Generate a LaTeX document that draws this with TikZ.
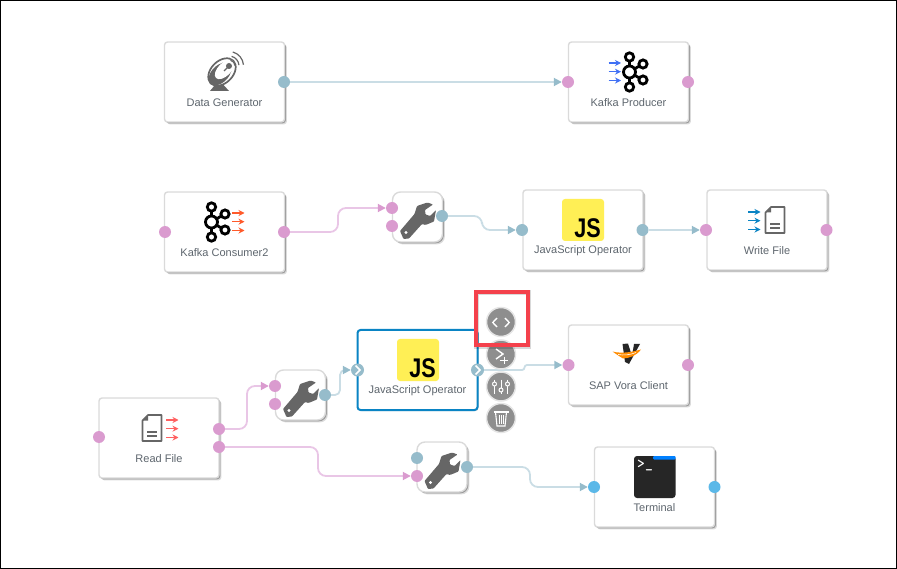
\documentclass[tikz,border=0pt]{standalone}
\usepackage{fontspec}
\setmainfont{Liberation Sans}
\usetikzlibrary{arrows.meta,shadows}

\definecolor{portpink}{HTML}{DA9BCF}
\definecolor{wirepink}{HTML}{E9C6E6}
\definecolor{portblue}{HTML}{96BCCB}
\definecolor{wireblue}{HTML}{CADDE5}
\definecolor{portsky}{HTML}{5BB8E8}
\definecolor{labelgray}{HTML}{5E666E}
\definecolor{icongray}{HTML}{666666}
\definecolor{btngray}{HTML}{8E8E8E}
\definecolor{jsyellow}{HTML}{FFEF55}
\definecolor{boxline}{HTML}{DADADA}
\definecolor{selblue}{HTML}{0A84C4}
\definecolor{redframe}{HTML}{F4414C}
\definecolor{arrowblue}{HTML}{4070F4}
\definecolor{arroworange}{HTML}{FF5A2A}
\definecolor{arrowred}{HTML}{FF6060}

% three small arrows: x, y of the first tail, colour
\newcommand{\tripleicon}[3]{
    \foreach \dy in {0,8.7,17.5}
        \draw[#3, line width=1.5pt, -{Stealth[length=6pt,width=6pt]}] (#1,#2+\dy) -- ++(12.5,0);
}
% kafka logo round its middle ring
\newcommand{\kafkaicon}[2]{
    \begin{scope}[shift={(#1,#2)}, line width=2.8pt]
        \draw (0,-15) -- (0,15) (0,0) -- (13,-8) (0,0) -- (13,8);
        \filldraw[fill=white] (0,-15) circle (4.2);
        \filldraw[fill=white] (0,15) circle (4.2);
        \filldraw[fill=white] (0,0) circle (6);
        \filldraw[fill=white] (13.5,-8) circle (4.1);
        \filldraw[fill=white] (13.5,8) circle (4.1);
    \end{scope}
}
% sheet of paper
\newcommand{\fileicon}[2]{
    \begin{scope}[shift={(#1,#2)}]
        \draw[icongray, line width=1.7pt, line join=round, fill=white] (-4,-13) -- (9.5,-13) -- (9.5,13) -- (-9.5,13) -- (-9.5,-7.5) -- cycle;
        \fill[icongray] (-4,-13) -- (-4,-7.5) -- (-9.5,-7.5) -- cycle;
        \draw[icongray, line width=1.3pt] (-5,4) -- (5,4) (-5,8) -- (5,8);
    \end{scope}
}
% wrench inside a small box
\newcommand{\wrenchicon}[2]{
    \begin{scope}[shift={(#1,#2)}]
        \fill[icongray, rounded corners=.8pt] (-17.5,14) -- (-3,-3) -- (-.5,-11) -- (10,-14.5) -- (15.5,-12.5) -- (7.5,-7) -- (8,-2.5) -- (12.5,-1) -- (18.5,-7) -- (16.5,4.5) -- (8,8) -- (4.5,7) -- (-8.5,21.5) -- (-14,22) -- cycle;
        \fill[white] (-11.5,15.5) circle (1.7);
    \end{scope}
}
% yellow square with its letters
\newcommand{\jsicon}[3]{
    \fill[jsyellow, rounded corners=3pt] (#1,#2) rectangle ++(42,42);
    \node[anchor=south east, inner sep=0pt, font=\bfseries\fontsize{27}{27}\selectfont] (#3) at (#1+39,#2+39) {\scalebox{.8}[1]{JS}};
}

\begin{document}
\begin{tikzpicture}[x=1pt, y=-1pt, >=stealth,
    opbox/.style={draw=boxline, line width=1.4pt, fill=white, rounded corners=3pt, minimum width=120pt, minimum height=80pt, inner sep=0pt,
        drop shadow={shadow xshift=2.4pt, shadow yshift=-2.4pt, fill=black, opacity=.14},
        drop shadow={shadow xshift=1.3pt, shadow yshift=-1.3pt, fill=black, opacity=.3}},
    smallbox/.style={opbox, minimum width=50pt, minimum height=50pt, rounded corners=8pt},
    oplabel/.style={text=labelgray, inner sep=0pt, font=\fontsize{11}{12}\selectfont},
    port/.style={circle, inner sep=0pt, minimum size=12pt},
    pinkport/.style={port, fill=portpink},
    blueport/.style={port, fill=portblue},
    skyport/.style={port, fill=portsky},
    pinkwire/.style={draw=wirepink, line width=1.8pt, rounded corners=8pt, -{Triangle[length=8pt,width=8pt,color=portpink]}},
    bluewire/.style={draw=wireblue, line width=1.8pt, rounded corners=8pt, -{Triangle[length=8pt,width=8pt,color=portblue]}},
    action/.style={circle, fill=btngray, draw=black!10, line width=1.5pt, minimum size=29pt, inner sep=0pt},
    actionmark/.style={white, line width=1.4pt}]

    \useasboundingbox (0,0) rectangle (897,569);
    \draw[black, line width=1pt] (0.5,0.5) rectangle (896.5,568.5);

    % Boxes
    \node[opbox] (datagen) at (224.5,82) {};
    \node[opbox] (producer) at (628.5,82) {};
    \node[opbox] (consumer) at (224.5,232) {};
    \node[opbox] (jsfirst) at (583,230) {};
    \node[opbox] (writefile) at (767,230) {};
    \node[draw=selblue, line width=2pt, fill=white, rounded corners=3pt, minimum width=120pt, minimum height=80pt, inner sep=0pt,
        drop shadow={shadow xshift=1pt, shadow yshift=-1pt, fill=black, opacity=.2}] (jssecond) at (417.5,370) {};
    \node[opbox] (vora) at (628.5,365) {};
    \node[opbox] (readfile) at (159,438) {};
    \node[opbox] (terminal) at (654.5,487) {};
    \node[smallbox] (toolone) at (417.5,217) {};
    \node[smallbox] (tooltwo) at (300.5,395) {};
    \node[smallbox] (toolthree) at (442,467) {};

    % Ports
    \node[blueport] (datagenout) at (284,82) {};
    \node[pinkport] (producerin) at (568,82) {};
    \node[pinkport] (producerout) at (688,82) {};
    \node[pinkport] (consumerin) at (165,232) {};
    \node[pinkport] (consumerout) at (284,232) {};
    \node[pinkport] (toolonea) at (392,208) {};
    \node[pinkport] (tooloneb) at (392,226) {};
    \node[blueport] (tooloneout) at (442,216) {};
    \node[blueport] (jsfirstin) at (522,230) {};
    \node[blueport] (jsfirstout) at (642.5,230) {};
    \node[pinkport] (writein) at (706,230) {};
    \node[pinkport] (writeout) at (826.5,230) {};
    \node[pinkport] (readin) at (99,437) {};
    \node[pinkport] (readouta) at (219,429) {};
    \node[pinkport] (readoutb) at (219,447) {};
    \node[pinkport] (tooltwoa) at (275,386) {};
    \node[pinkport] (tooltwob) at (275,404) {};
    \node[blueport] (tooltwoout) at (325,395) {};
    \node[blueport, minimum size=13pt] (jssecondin) at (357.5,370) {};
    \node[blueport, minimum size=13pt] (jssecondout) at (477.5,370) {};
    \node[pinkport] (vorain) at (568.5,365) {};
    \node[pinkport] (voraout) at (688,365) {};
    \node[blueport] (toolthreea) at (417,458) {};
    \node[pinkport] (toolthreeb) at (417,476) {};
    \node[blueport] (toolthreeout) at (467,467) {};
    \node[skyport] (terminalin) at (594,487) {};
    \node[skyport] (terminalout) at (714.5,487) {};

    % Connections
    \draw[bluewire] (datagenout) -- (producerin);
    \draw[pinkwire] (consumerout) -- ++(54,0) |- (toolonea);
    \draw[bluewire] (tooloneout) -- ++(40,0) |- (jsfirstin);
    \draw[bluewire] (jsfirstout) -- (writein);
    \draw[pinkwire] (readouta) -- ++(28,0) |- (tooltwoa);
    \draw[pinkwire] (readoutb) -- ++(99,0) |- (toolthreeb);
    \draw[bluewire, rounded corners=5pt] (tooltwoout) -- ++(15,0) |- (jssecondin);
    \draw[bluewire, rounded corners=2.5pt] (jssecondout) -- ++(47,0) |- (vorain);
    \draw[bluewire] (toolthreeout) -- ++(63,0) |- (terminalin);

    % Chevrons on the selected box
    \draw[white, line width=1.6pt] (355.5,365.5) -- (360,370) -- (355.5,374.5);
    \draw[white, line width=1.6pt] (475.5,365.5) -- (480,370) -- (475.5,374.5);

    % Dish
    \fill[icongray] (210,91) -- (219,80) -- (229,91) -- cycle;
    \filldraw[icongray, fill=white, line width=1.7pt, rotate around={45:(222,72)}] (222,72) ellipse (16 and 11);
    \fill[icongray, rotate around={45:(220,74)}] (220,74) ellipse (14 and 8.5);
    \fill[white, rotate around={45:(224.5,69.5)}] (224.5,69.5) ellipse (12 and 6.5);
    \fill[icongray] (229,66) circle (3);
    \draw[icongray, line width=1.3pt] (229,66) -- (224,71);
    \foreach \r in {6,10,14.5}
        \draw[icongray, line width=1.2pt] (229,66) ++(-75:\r) arc[start angle=-75, end angle=-5, radius=\r];

    % Kafka
    \kafkaicon{629.5}{72}
    \tripleicon{608.5}{63}{arrowblue}
    \kafkaicon{211.5}{222}
    \tripleicon{232}{213}{arroworange}

    % Files
    \fileicon{775}{220}
    \tripleicon{748}{212}{selblue}
    \fileicon{152}{428}
    \tripleicon{166}{420}{arrowred}

    % Wrenches
    \wrenchicon{417.5}{217}
    \wrenchicon{300.5}{395}
    \wrenchicon{442}{467}

    % JS
    \jsicon{562}{199}{jsfirstmark}
    \jsicon{397}{339}{jssecondmark}

    % Vora
    \fill[black!85] (622.5,344) -- (628,343.5) -- (632,356) -- (634,344) -- (640,344) -- (629,364) -- (625,362) -- cycle;
    \fill[orange!90!yellow] (612.5,351.5) .. controls (622,354) and (632,352) .. (641,349.5) .. controls (636,356) and (630,358) .. (623,358.5) .. controls (619,356) and (616,354) .. (612.5,351.5) -- cycle;
    \draw[white, line width=.6pt] (618,354.5) .. controls (624,355.5) and (630,355) .. (636,352.5);

    % Terminal
    \fill[black!85, rounded corners=3pt] (634,456) rectangle (675.5,498);
    \fill[blue!50!cyan, rounded corners=1pt] (653,456) rectangle (675.5,459.5);
    \node[text=white, inner sep=0pt, font=\ttfamily\bfseries\fontsize{15}{15}\selectfont] (prompt) at (645,466) {>\_};

    % Labels
    \node[oplabel] (datagentext) at (224.5,102.5) {Data Generator};
    \node[oplabel] (producertext) at (628.5,102.5) {Kafka Producer};
    \node[oplabel] (consumertext) at (224.5,252.5) {Kafka Consumer2};
    \node[oplabel] (jsfirsttext) at (583,250.5) {JavaScript Operator};
    \node[oplabel] (writetext) at (767,250.5) {Write File};
    \node[oplabel] (jssecondtext) at (417.5,390.5) {JavaScript Operator};
    \node[oplabel] (voratext) at (628.5,385.5) {SAP Vora Client};
    \node[oplabel] (readtext) at (159,458.5) {Read File};
    \node[oplabel] (terminaltext) at (654.5,507.5) {Terminal};

    % Buttons next to the selected box
    \node[action] (btncode) at (501,322) {};
    \node[action] (btnrun) at (501,354.5) {};
    \node[action] (btnset) at (501,386.5) {};
    \node[action] (btntrash) at (501,418) {};

    \draw[actionmark] (497,318) -- (492.8,322.5) -- (497,327);
    \draw[actionmark] (505,318) -- (509.2,322.5) -- (505,327);
    \draw[actionmark] (496,349) -- (503,354) -- (496,359);
    \draw[actionmark, line width=1pt] (500,360) -- (508,360) (504,356.5) -- (504,363.5);
    \foreach \x/\k in {494.5/384,501/390,507.5/384} {
        \draw[actionmark, line width=1pt] (\x,379.5) -- (\x,393.5);
        \filldraw[white, fill=btngray, line width=1pt] (\x,\k) circle (2);
    }
    \draw[actionmark, line width=1.2pt] (493.5,412) -- (508.5,412);
    \draw[actionmark, line width=1.1pt] (495.5,412) -- (497,426) -- (505,426) -- (506.5,412);
    \draw[actionmark, line width=.8pt] (499,415) -- (499,424) (501,415) -- (501,424) (503,415) -- (503,424);

    % Red mark
    \draw[black, opacity=.15, line width=5pt] (476.7,293) rectangle (528.5,346);
    \draw[redframe, line width=4pt] (475.7,292) rectangle (527.5,345);

\end{tikzpicture}
\end{document}
